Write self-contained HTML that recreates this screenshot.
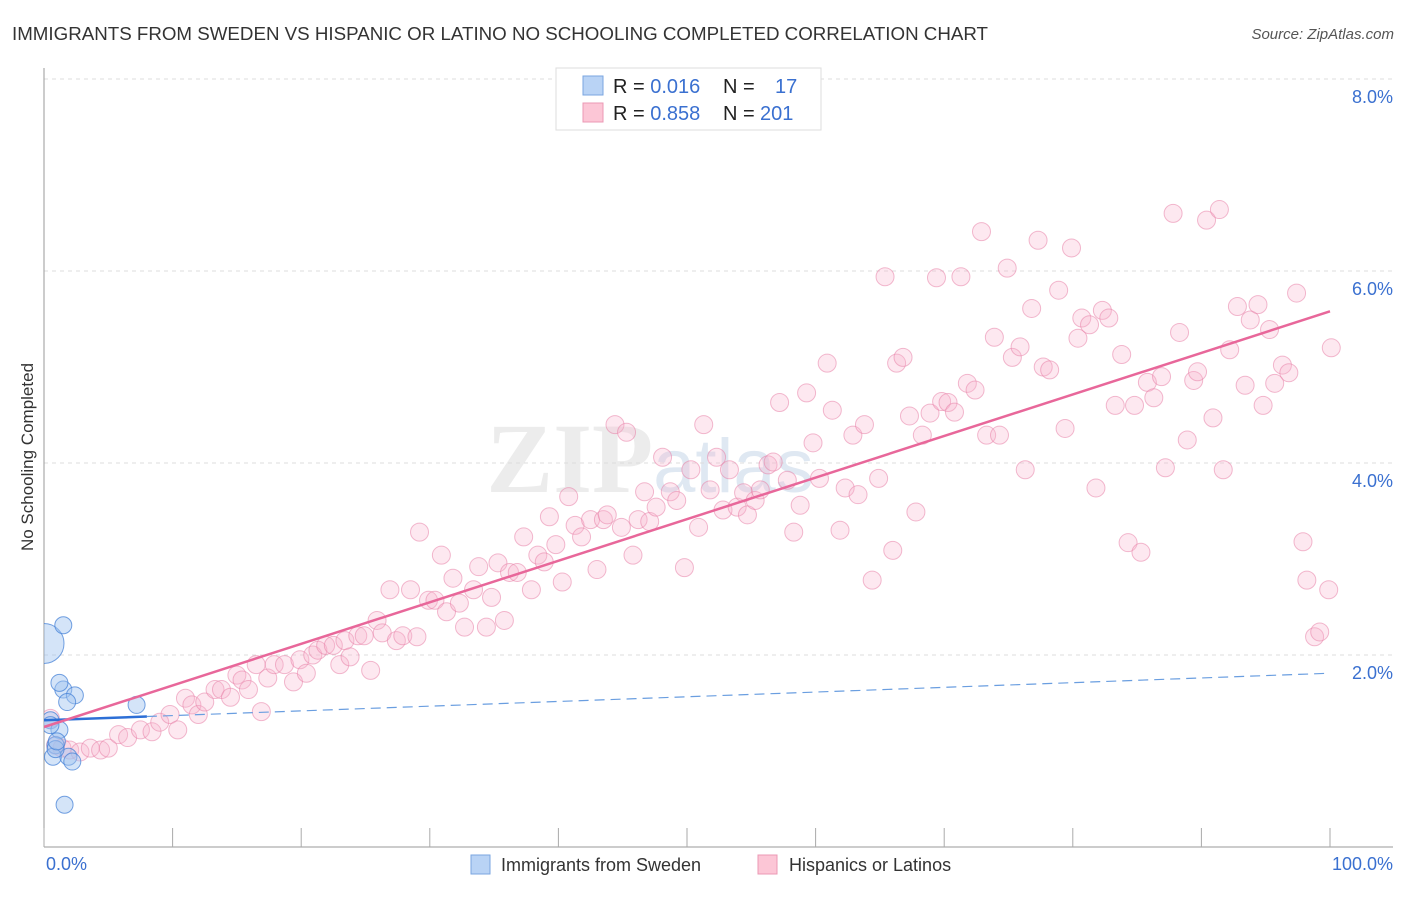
<!DOCTYPE html>
<html><head><meta charset="utf-8"><style>
body{margin:0;background:#fff;font-family:"Liberation Sans",sans-serif;}
</style></head><body>
<svg id="chart" width="1406" height="892" xmlns="http://www.w3.org/2000/svg">
<defs><clipPath id="plotclip"><rect x="44" y="60" width="1360" height="787"/></clipPath></defs>
<text x="12" y="40" font-size="18" fill="#333" textLength="976" lengthAdjust="spacingAndGlyphs">IMMIGRANTS FROM SWEDEN VS HISPANIC OR LATINO NO SCHOOLING COMPLETED CORRELATION CHART</text>
<text x="1394" y="39" font-size="15" fill="#555" font-style="italic" text-anchor="end">Source: ZipAtlas.com</text>
<text x="650" y="492" font-size="100" fill="#ececec" font-family="Liberation Serif" font-weight="bold" text-anchor="middle">ZIP<tspan font-family="Liberation Sans" font-weight="normal" fill="#dfe8f2" font-size="76">atlas</tspan></text>
<g id="grid"></g><g id="axes"></g><g id="marks" clip-path="url(#plotclip)"></g>
<text transform="translate(33,457) rotate(-90)" font-size="17" fill="#333" text-anchor="middle">No Schooling Completed</text>
<g>
<rect x="556" y="68" width="265" height="62" fill="#fff" stroke="#ddd"/>
<rect x="583" y="76" width="20" height="19" fill="#b9d3f5" stroke="#7aa6e0"/>
<rect x="583" y="103" width="20" height="19" fill="#fcc6d6" stroke="#eb98b4"/>
<text x="613" y="93" font-size="20" fill="#222">R = <tspan fill="#3a70d0">0.016</tspan><tspan x="723">N =</tspan><tspan x="775" fill="#3a70d0">17</tspan></text>
<text x="613" y="120" font-size="20" fill="#222">R = <tspan fill="#3a70d0">0.858</tspan><tspan x="723">N =</tspan><tspan x="760" fill="#3a70d0">201</tspan></text>
</g>
<g>
<rect x="471" y="855" width="19" height="19" fill="#b9d3f5" stroke="#7aa6e0"/>
<text x="501" y="871" font-size="18" fill="#333">Immigrants from Sweden</text>
<rect x="758" y="855" width="19" height="19" fill="#fcc6d6" stroke="#eb98b4"/>
<text x="789" y="871" font-size="18" fill="#333">Hispanics or Latinos</text>
</g>
</svg>
<script>
const yTicks=[2,4,6,8];
const xTickLabels=["0.0%","100.0%"];
const blueX=[0,1.5,1.5,1.2,2.4,1.8,0.5,1.2,0.9,0.7,1.9,2.2,1.6,7.2,0.5,0.9,1.0];
const blueY=[2.12,2.31,1.64,1.71,1.58,1.51,1.32,1.22,1.06,0.94,0.94,0.89,0.44,1.48,1.27,1.02,1.1];
const pinkX=[0.5,0.9,1.4,2.0,2.8,3.6,4.4,5.0,5.8,6.5,7.5,8.4,9.0,9.8,10.4,11.0,11.5,12.0,12.5,13.3,13.8,14.5,15.0,15.4,15.9,16.5,16.9,17.4,17.9,18.7,19.4,19.9,20.4,20.9,21.3,21.9,22.5,23.0,23.4,23.8,24.4,24.9,25.4,25.9,26.3,26.9,27.4,27.9,28.5,29.0,29.2,29.9,30.4,30.9,31.3,31.8,32.3,32.7,33.4,33.8,34.4,34.8,35.3,35.8,36.2,36.8,37.3,37.9,38.4,38.9,39.3,39.8,40.3,40.8,41.3,41.8,42.5,43.0,43.5,43.8,44.4,44.9,45.3,45.8,46.2,46.7,47.1,47.6,48.1,48.7,49.2,49.8,50.3,50.9,51.3,51.8,52.3,52.8,53.3,53.9,54.4,54.7,55.3,55.7,56.3,56.7,57.2,57.8,58.3,58.8,59.3,59.8,60.3,60.9,61.3,61.9,62.3,62.9,63.3,63.8,64.4,64.9,65.4,66.0,66.3,66.8,67.3,67.8,68.3,68.9,69.4,69.8,70.3,70.8,71.3,71.8,72.4,72.9,73.3,73.9,74.3,74.9,75.3,75.9,76.3,76.8,77.3,77.7,78.2,78.9,79.4,79.9,80.4,80.7,81.3,81.8,82.3,82.8,83.3,83.8,84.3,84.8,85.3,85.8,86.3,86.9,87.2,87.8,88.3,88.9,89.4,89.7,90.4,90.9,91.4,91.7,92.2,92.8,93.4,93.8,94.4,94.8,95.3,95.7,96.3,96.8,97.4,97.9,98.2,98.8,99.2,99.9,100.1];
const pinkY=[1.34,1.06,1.03,1.01,0.99,1.03,1.01,1.03,1.17,1.14,1.22,1.20,1.30,1.38,1.22,1.55,1.48,1.38,1.51,1.64,1.64,1.56,1.79,1.74,1.64,1.90,1.41,1.76,1.90,1.90,1.72,1.95,1.81,2.0,2.05,2.10,2.10,1.90,2.15,1.98,2.20,2.20,1.84,2.36,2.23,2.68,2.15,2.20,2.68,2.19,3.28,2.57,2.57,3.04,2.45,2.80,2.54,2.29,2.68,2.92,2.29,2.60,2.96,2.36,2.86,2.86,3.23,2.68,3.04,2.97,3.44,3.15,2.76,3.65,3.35,3.23,3.41,2.89,3.41,3.46,4.40,3.33,4.32,3.04,3.41,3.70,3.39,3.54,4.06,3.70,3.61,2.91,3.93,3.33,4.40,3.72,4.06,3.51,3.93,3.54,3.69,3.46,3.61,3.72,3.98,4.01,4.63,3.82,3.28,3.56,4.73,4.21,3.84,5.04,4.55,3.30,3.74,4.29,3.67,4.40,2.78,3.84,5.94,3.09,5.04,5.10,4.49,3.49,4.29,4.52,5.93,4.64,4.63,4.53,5.94,4.83,4.76,6.41,4.29,5.31,4.29,6.03,5.10,5.21,3.93,5.61,6.32,5.0,4.97,5.80,4.36,6.24,5.30,5.51,5.44,3.74,5.59,5.51,4.60,5.13,3.17,4.60,3.07,4.84,4.68,4.90,3.95,6.60,5.36,4.24,4.86,4.95,6.53,4.47,6.64,3.93,5.18,5.63,4.81,5.49,5.65,4.60,5.39,4.83,5.02,4.94,5.77,3.18,2.78,2.19,2.24,2.68,5.20];
const pinkFit=[1.25,5.58];
const blueFit=[1.32,1.81];
const X0=44,X1=1330,Y0=847,PY=96;
const sx=v=>X0+(X1-X0)*v/100, sy=v=>Y0-PY*v;
const NS="http://www.w3.org/2000/svg";
function mk(tag,attrs,parent){const e=document.createElementNS(NS,tag);for(const k in attrs)e.setAttribute(k,attrs[k]);document.getElementById(parent).appendChild(e);return e;}
yTicks.forEach(t=>{
 const g=mk("line",{x1:X0,x2:1393,y1:sy(t),y2:sy(t),stroke:"#ddd","stroke-dasharray":"4,4"},"grid");
 
 
 const l=mk("text",{x:1393,y:sy(t)+24,"font-size":18,fill:"#3a70d0","text-anchor":"end"},"grid");
 l.textContent=t.toFixed(1)+"%";
 
 
});
let a=mk("line",{x1:X0,x2:X0,y1:68,y2:Y0,stroke:"#999"},"axes");


a=mk("line",{x1:X0,x2:1393,y1:Y0,y2:Y0,stroke:"#999"},"axes");


for(let i=0;i<=10;i++){const t=mk("line",{x1:sx(i*10),x2:sx(i*10),y1:828,y2:Y0,stroke:"#aaa"},"axes");
 
 }
[[0,"start",46],[1,"end",1393]].forEach(([i,anc,x])=>{const t=mk("text",{x:x,y:870,"font-size":18,fill:"#3a70d0","text-anchor":anc},"axes");t.textContent=xTickLabels[i];
 
 });
pinkX.forEach((x,i)=>{const c=mk("circle",{cx:sx(x),cy:sy(pinkY[i]),r:9,fill:"rgba(248,180,204,0.3)",stroke:"rgba(232,130,168,0.55)"},"marks");
 
 });
blueX.forEach((x,i)=>{const c=mk("circle",{cx:sx(x),cy:sy(blueY[i]),r:i===0?20:8.5,fill:"rgba(160,195,240,0.45)",stroke:"rgba(70,130,215,0.75)"},"marks");
 
 });
const bAt=x=>blueFit[0]+(blueFit[1]-blueFit[0])*x/100;
let ln=mk("line",{x1:sx(8),y1:sy(bAt(8)),x2:sx(100),y2:sy(bAt(100)),stroke:"#6a9ee0","stroke-dasharray":"10,6","stroke-width":1.2},"marks");


ln=mk("line",{x1:sx(0),y1:sy(bAt(0)),x2:sx(8),y2:sy(bAt(8)),stroke:"#2d6fd6","stroke-width":2.5},"marks");


ln=mk("line",{x1:sx(0),y1:sy(pinkFit[0]),x2:sx(100),y2:sy(pinkFit[1]),stroke:"#e8679a","stroke-width":2.5},"marks");


</script>
</body></html>
